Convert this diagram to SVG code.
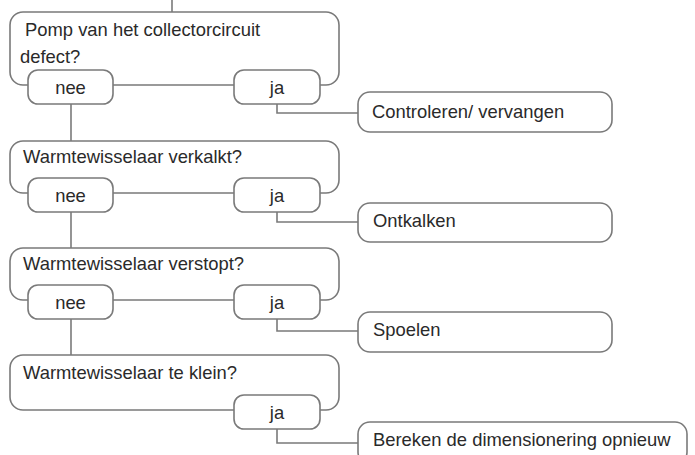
<svg xmlns="http://www.w3.org/2000/svg" width="695" height="455" viewBox="0 0 695 455">
<style>
.box{fill:#fff;stroke:#7a7a7a;stroke-width:1.6}
.pill{fill:#fff;stroke:#7a7a7a;stroke-width:1.6}
.ln{fill:none;stroke:#7a7a7a;stroke-width:1.6}
text{font-family:"Liberation Sans",Arial,sans-serif;font-size:18.4px;fill:#2a2a2a}
.c{text-anchor:middle}
</style>
<rect width="695" height="455" fill="#fff"/>
<g id="connectors">
<path class="ln" d="M172,0 V12"/>
<path class="ln" d="M71,104 V141"/>
<path class="ln" d="M71,212 V248"/>
<path class="ln" d="M71,319 V355"/>
<path class="ln" d="M277,104 V113 H358"/>
<path class="ln" d="M277,212 V222 H358"/>
<path class="ln" d="M277,319 V331 H358"/>
<path class="ln" d="M277,429 V443 H358"/>
</g>
<g id="q1">
<rect class="box" x="10" y="12" width="329" height="73" rx="13"/>
<text x="25" y="36">Pomp van het collectorcircuit</text>
<text x="20" y="63">defect?</text>
</g>
<g id="q1-nee"><rect class="pill" x="28" y="70" width="85" height="34" rx="10"/><text class="c" x="70.5" y="94">nee</text></g>
<g id="q1-ja"><rect class="pill" x="234" y="70" width="86" height="34" rx="10"/><text class="c" x="277" y="94">ja</text></g>
<g id="a1"><rect class="box" x="358" y="92" width="254" height="40" rx="12"/><text x="372" y="118">Controleren/ vervangen</text></g>

<g id="q2">
<rect class="box" x="10" y="141" width="329" height="52" rx="13"/>
<text x="23" y="163">Warmtewisselaar verkalkt?</text>
</g>
<g id="q2-nee"><rect class="pill" x="28" y="178" width="85" height="34" rx="10"/><text class="c" x="70.5" y="202">nee</text></g>
<g id="q2-ja"><rect class="pill" x="234" y="178" width="86" height="34" rx="10"/><text class="c" x="277" y="202">ja</text></g>
<g id="a2"><rect class="box" x="358" y="203" width="254" height="39" rx="12"/><text x="373" y="227">Ontkalken</text></g>

<g id="q3">
<rect class="box" x="10" y="248" width="329" height="52" rx="13"/>
<text x="23" y="270">Warmtewisselaar verstopt?</text>
</g>
<g id="q3-nee"><rect class="pill" x="28" y="285" width="85" height="34" rx="10"/><text class="c" x="70.5" y="309">nee</text></g>
<g id="q3-ja"><rect class="pill" x="234" y="285" width="86" height="34" rx="10"/><text class="c" x="277" y="309">ja</text></g>
<g id="a3"><rect class="box" x="358" y="312" width="254" height="40" rx="12"/><text x="373" y="336">Spoelen</text></g>

<g id="q4">
<rect class="box" x="10" y="355" width="329" height="55" rx="13"/>
<text x="23" y="379">Warmtewisselaar te klein?</text>
</g>
<g id="q4-ja"><rect class="pill" x="234" y="395" width="86" height="34" rx="10"/><text class="c" x="277" y="419">ja</text></g>
<g id="a4"><rect class="box" x="358" y="422" width="329" height="42" rx="12"/><text x="373" y="446">Bereken de dimensionering opnieuw</text></g>
</svg>
